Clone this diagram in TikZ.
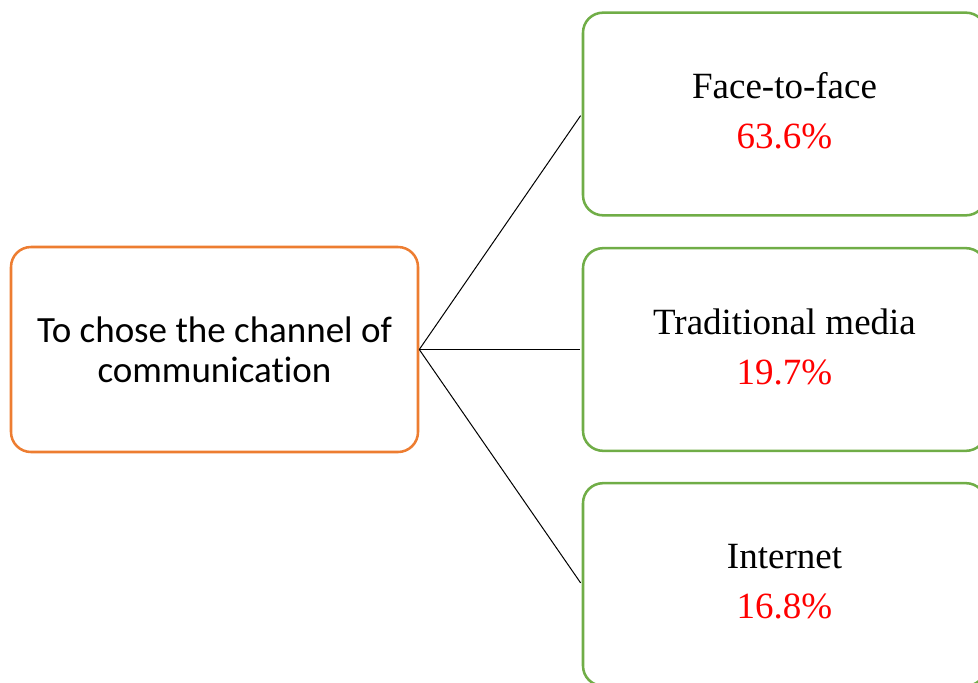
\documentclass[tikz,border=0pt]{standalone}
\usepackage{fontspec}
\setmainfont{Liberation Serif}
\newfontfamily\calibrifont[Ligatures=NoCommon]{Carlito}
\definecolor{boxorange}{HTML}{ED7D31}
\definecolor{boxgreen}{HTML}{70AD47}
\definecolor{pctred}{HTML}{FF0000}
\begin{document}
\begin{tikzpicture}[x=0.75pt,y=-0.75pt,
  topicbox/.style={draw=boxorange,line width=1.9pt,rounded corners=15pt,
    minimum width=305.25pt,minimum height=153.75pt,inner sep=0pt,align=center,
    font=\calibrifont\fontsize{27.75}{30}\selectfont},
  channelbox/.style={draw=boxgreen,line width=1.9pt,rounded corners=15pt,
    minimum width=302.25pt,minimum height=152pt,inner sep=0pt,align=center,
    text depth=5pt,font=\fontsize{27.75}{37.5}\selectfont},
  link/.style={draw=black,line width=0.75pt,shorten >=1.5pt}]
\useasboundingbox (0,0) rectangle (978,682);
\clip (0,0) rectangle (978,682);
% topic on the left
\node[topicbox] (topic) at (214.5,349.5) {To chose the channel of\\communication};
% the three channels
\node[channelbox] (face) at (784.5,114) {Face-to-face\\\textcolor{pctred}{63.6\%}};
\node[channelbox] (media) at (784.5,349.5) {Traditional media\\\textcolor{pctred}{19.7\%}};
\node[channelbox] (net) at (784.5,584.5) {Internet\\\textcolor{pctred}{16.8\%}};
% connectors
\draw[link] (topic.east) -- (face.west);
\draw[link] (topic.east) -- (media.west);
\draw[link] (topic.east) -- (net.west);
\end{tikzpicture}
\end{document}
